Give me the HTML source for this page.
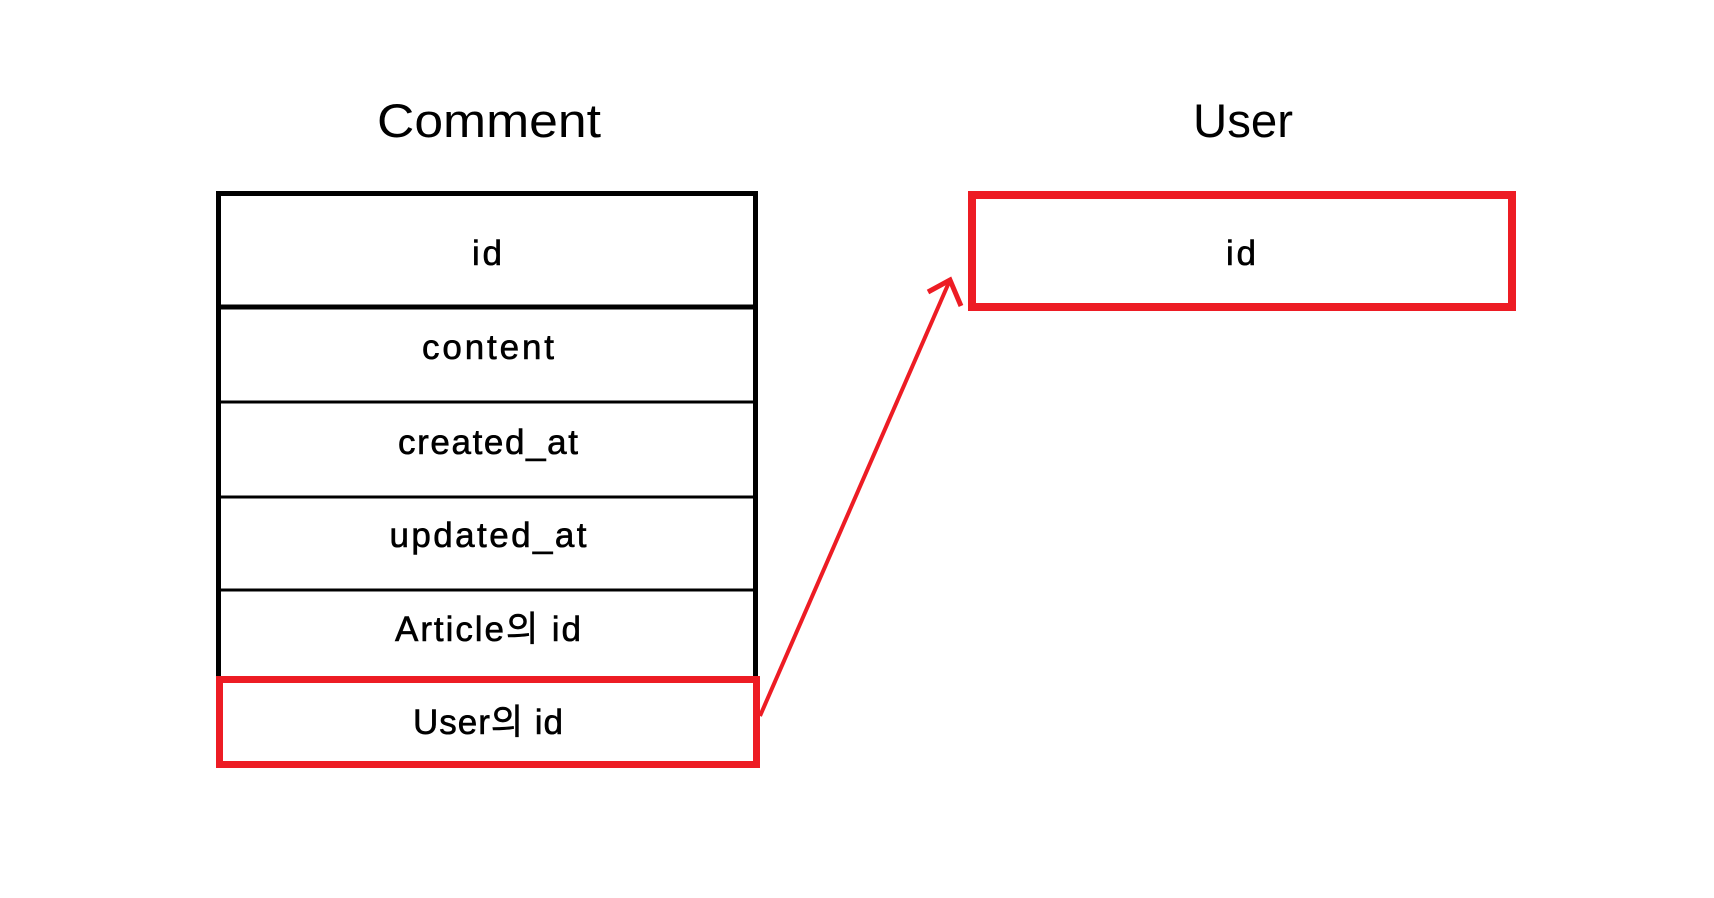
<!DOCTYPE html>
<html><head><meta charset="utf-8"><style>html,body{margin:0;padding:0;background:#fff}svg{display:block}</style></head>
<body>
<svg width="1714" height="898" viewBox="0 0 1714 898" xmlns="http://www.w3.org/2000/svg" font-family="'Liberation Sans','Noto Sans CJK KR',sans-serif">
<rect width="1714" height="898" fill="#fff"/>
<text x="489" y="137" font-size="47" text-anchor="middle" textLength="224" lengthAdjust="spacingAndGlyphs">Comment</text>
<text x="1243" y="137" font-size="47" text-anchor="middle" textLength="100" lengthAdjust="spacingAndGlyphs">User</text>
<rect x="218.5" y="193.5" width="537" height="570" fill="none" stroke="#000" stroke-width="5"/>
<line x1="218" y1="307" x2="756" y2="307" stroke="#000" stroke-width="5"/>
<line x1="218" y1="402" x2="756" y2="402" stroke="#000" stroke-width="3"/>
<line x1="218" y1="497" x2="756" y2="497" stroke="#000" stroke-width="3"/>
<line x1="218" y1="590" x2="756" y2="590" stroke="#000" stroke-width="3"/>
<rect x="219.5" y="679.5" width="537" height="85" fill="#fff" stroke="#ed1c24" stroke-width="7"/>
<rect x="972" y="195" width="540" height="112" fill="none" stroke="#ed1c24" stroke-width="8"/>
<g font-size="35" text-anchor="middle" lengthAdjust="spacingAndGlyphs" stroke="#000" stroke-width="0.6">
<text x="487" y="265" textLength="30">id</text>
<text x="488" y="359" textLength="132">content</text>
<text x="488" y="454" textLength="180">created_at</text>
<text x="488" y="547" textLength="197">updated_at</text>
<text x="488" y="641" textLength="186">Article의 id</text>
<text x="488" y="734" textLength="150">User의 id</text>
<text x="1241" y="265" textLength="30">id</text>
</g>
<g stroke="#ed1c24" stroke-width="4" fill="none">
<line x1="760" y1="716" x2="950" y2="280"/>
<polyline points="928,292 950,280 961,306" stroke-width="5"/>
</g>
</svg>
</body></html>
